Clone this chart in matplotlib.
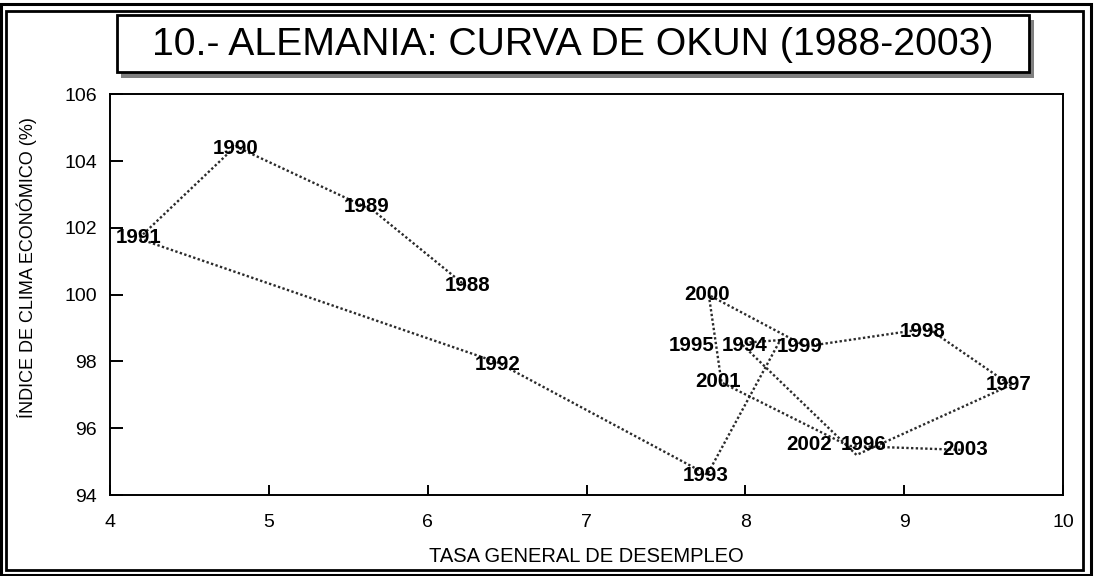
import matplotlib
matplotlib.use("Agg")
import matplotlib.pyplot as plt
from matplotlib.patches import Rectangle

# ---- data ----
years = ["1988", "1989", "1990", "1991", "1992", "1993", "1994", "1995",
         "1996", "1997", "1998", "1999", "2000", "2001", "2002", "2003"]
unemployment = [6.24, 5.66, 4.79, 4.18, 6.44, 7.76, 8.22, 7.97,
                8.70, 9.67, 9.15, 8.38, 7.77, 7.85, 8.65, 9.37]
climate_index = [100.26, 102.51, 104.44, 101.68, 97.97, 94.61, 98.64, 98.55,
                 95.20, 97.29, 98.99, 98.45, 99.99, 97.37, 95.47, 95.35]
x_ticks = [4, 5, 6, 7, 8, 9, 10]
y_ticks = [94, 96, 98, 100, 102, 104, 106]

title = "10.- ALEMANIA: CURVA DE OKUN (1988-2003)"
xlabel = "TASA GENERAL DE DESEMPLEO"
ylabel = "ÍNDICE DE CLIMA ECONÓMICO (%)"

# label offsets in pixels (dx right, dy up) – layout only
label_offsets = [(2, 2), (-7, 6), (0, 0), (0, 3), (0, 0), (-2, 1), (-36, -3), (-49, 0),
                 (7, 12), (-2, 3), (-5, -1), (-6, 2), (-2, 2), (-3, 3), (-39, 3), (2, 2)]

W, H = 1095, 576
DPI = 100
plt.rcParams['font.family'] = ['Liberation Sans', 'DejaVu Sans']

fig = plt.figure(figsize=(W / DPI, H / DPI), dpi=DPI)
fig.patch.set_facecolor('white')


def fx(x):
    return x / W


def fy(y):
    return 1 - y / H


def frect(x0, y0, x1, y1, **kw):
    r = Rectangle((fx(x0), fy(y1)), fx(x1) - fx(x0), fy(y0) - fy(y1),
                  transform=fig.transFigure, **kw)
    fig.patches.append(r)
    return r


# double border around the chart
frect(1.4, 3.6, 1090.6, 574.8, fill=False, edgecolor='black', linewidth=2.2, zorder=5)
frect(6.0, 10.5, 1083.3, 570.0, fill=False, edgecolor='black', linewidth=2.0, zorder=5)

# title box with shadow
frect(121, 20, 1034, 77.5, facecolor='#808080', edgecolor='none', zorder=3)
frect(116.5, 15, 1029, 71.5, facecolor='white', edgecolor='black', linewidth=2.0, zorder=4)
fig.text(fx(572.5), fy(55.2), title, ha='center', va='baseline', fontsize=28.2,
         color='black', zorder=6)

# axes
ax = fig.add_axes([fx(110), fy(495), fx(1063) - fx(110), fy(94.3) - fy(495)])
ax.plot(unemployment, climate_index, color='#2b2b2b', linewidth=1.7,
        linestyle=(0, (1, 1.0)), zorder=2)
for yr, xv, yv, (dx, dy) in zip(years, unemployment, climate_index, label_offsets):
    ax.annotate(yr, (xv, yv), xytext=(dx, dy), textcoords='offset pixels',
                ha='center', va='center_baseline', fontsize=14.8,
                fontweight='bold', color='black', zorder=3)

ax.set_xlim(4, 10)
ax.set_ylim(94, 106)
ax.set_xticks(x_ticks)
ax.set_yticks(y_ticks)
ax.set_xticklabels([str(v) for v in x_ticks])
ax.set_yticklabels([str(v) for v in y_ticks])
ax.tick_params(axis='x', direction='in', length=7.2, width=1.4, pad=14,
               labelsize=14, colors='black')
ax.tick_params(axis='y', direction='in', length=9.4, width=1.4, pad=9.5,
               labelsize=14, colors='black')
for s in ax.spines.values():
    s.set_linewidth(1.4)
    s.set_color('black')
ax.set_facecolor('white')

fig.text(fx(586), fy(555), xlabel, ha='center', va='center_baseline', fontsize=14.5)
fig.text(fx(27), fy(268), ylabel, ha='center', va='center', rotation=90, fontsize=13)

fig.savefig('out.png', dpi=DPI, facecolor='white')
